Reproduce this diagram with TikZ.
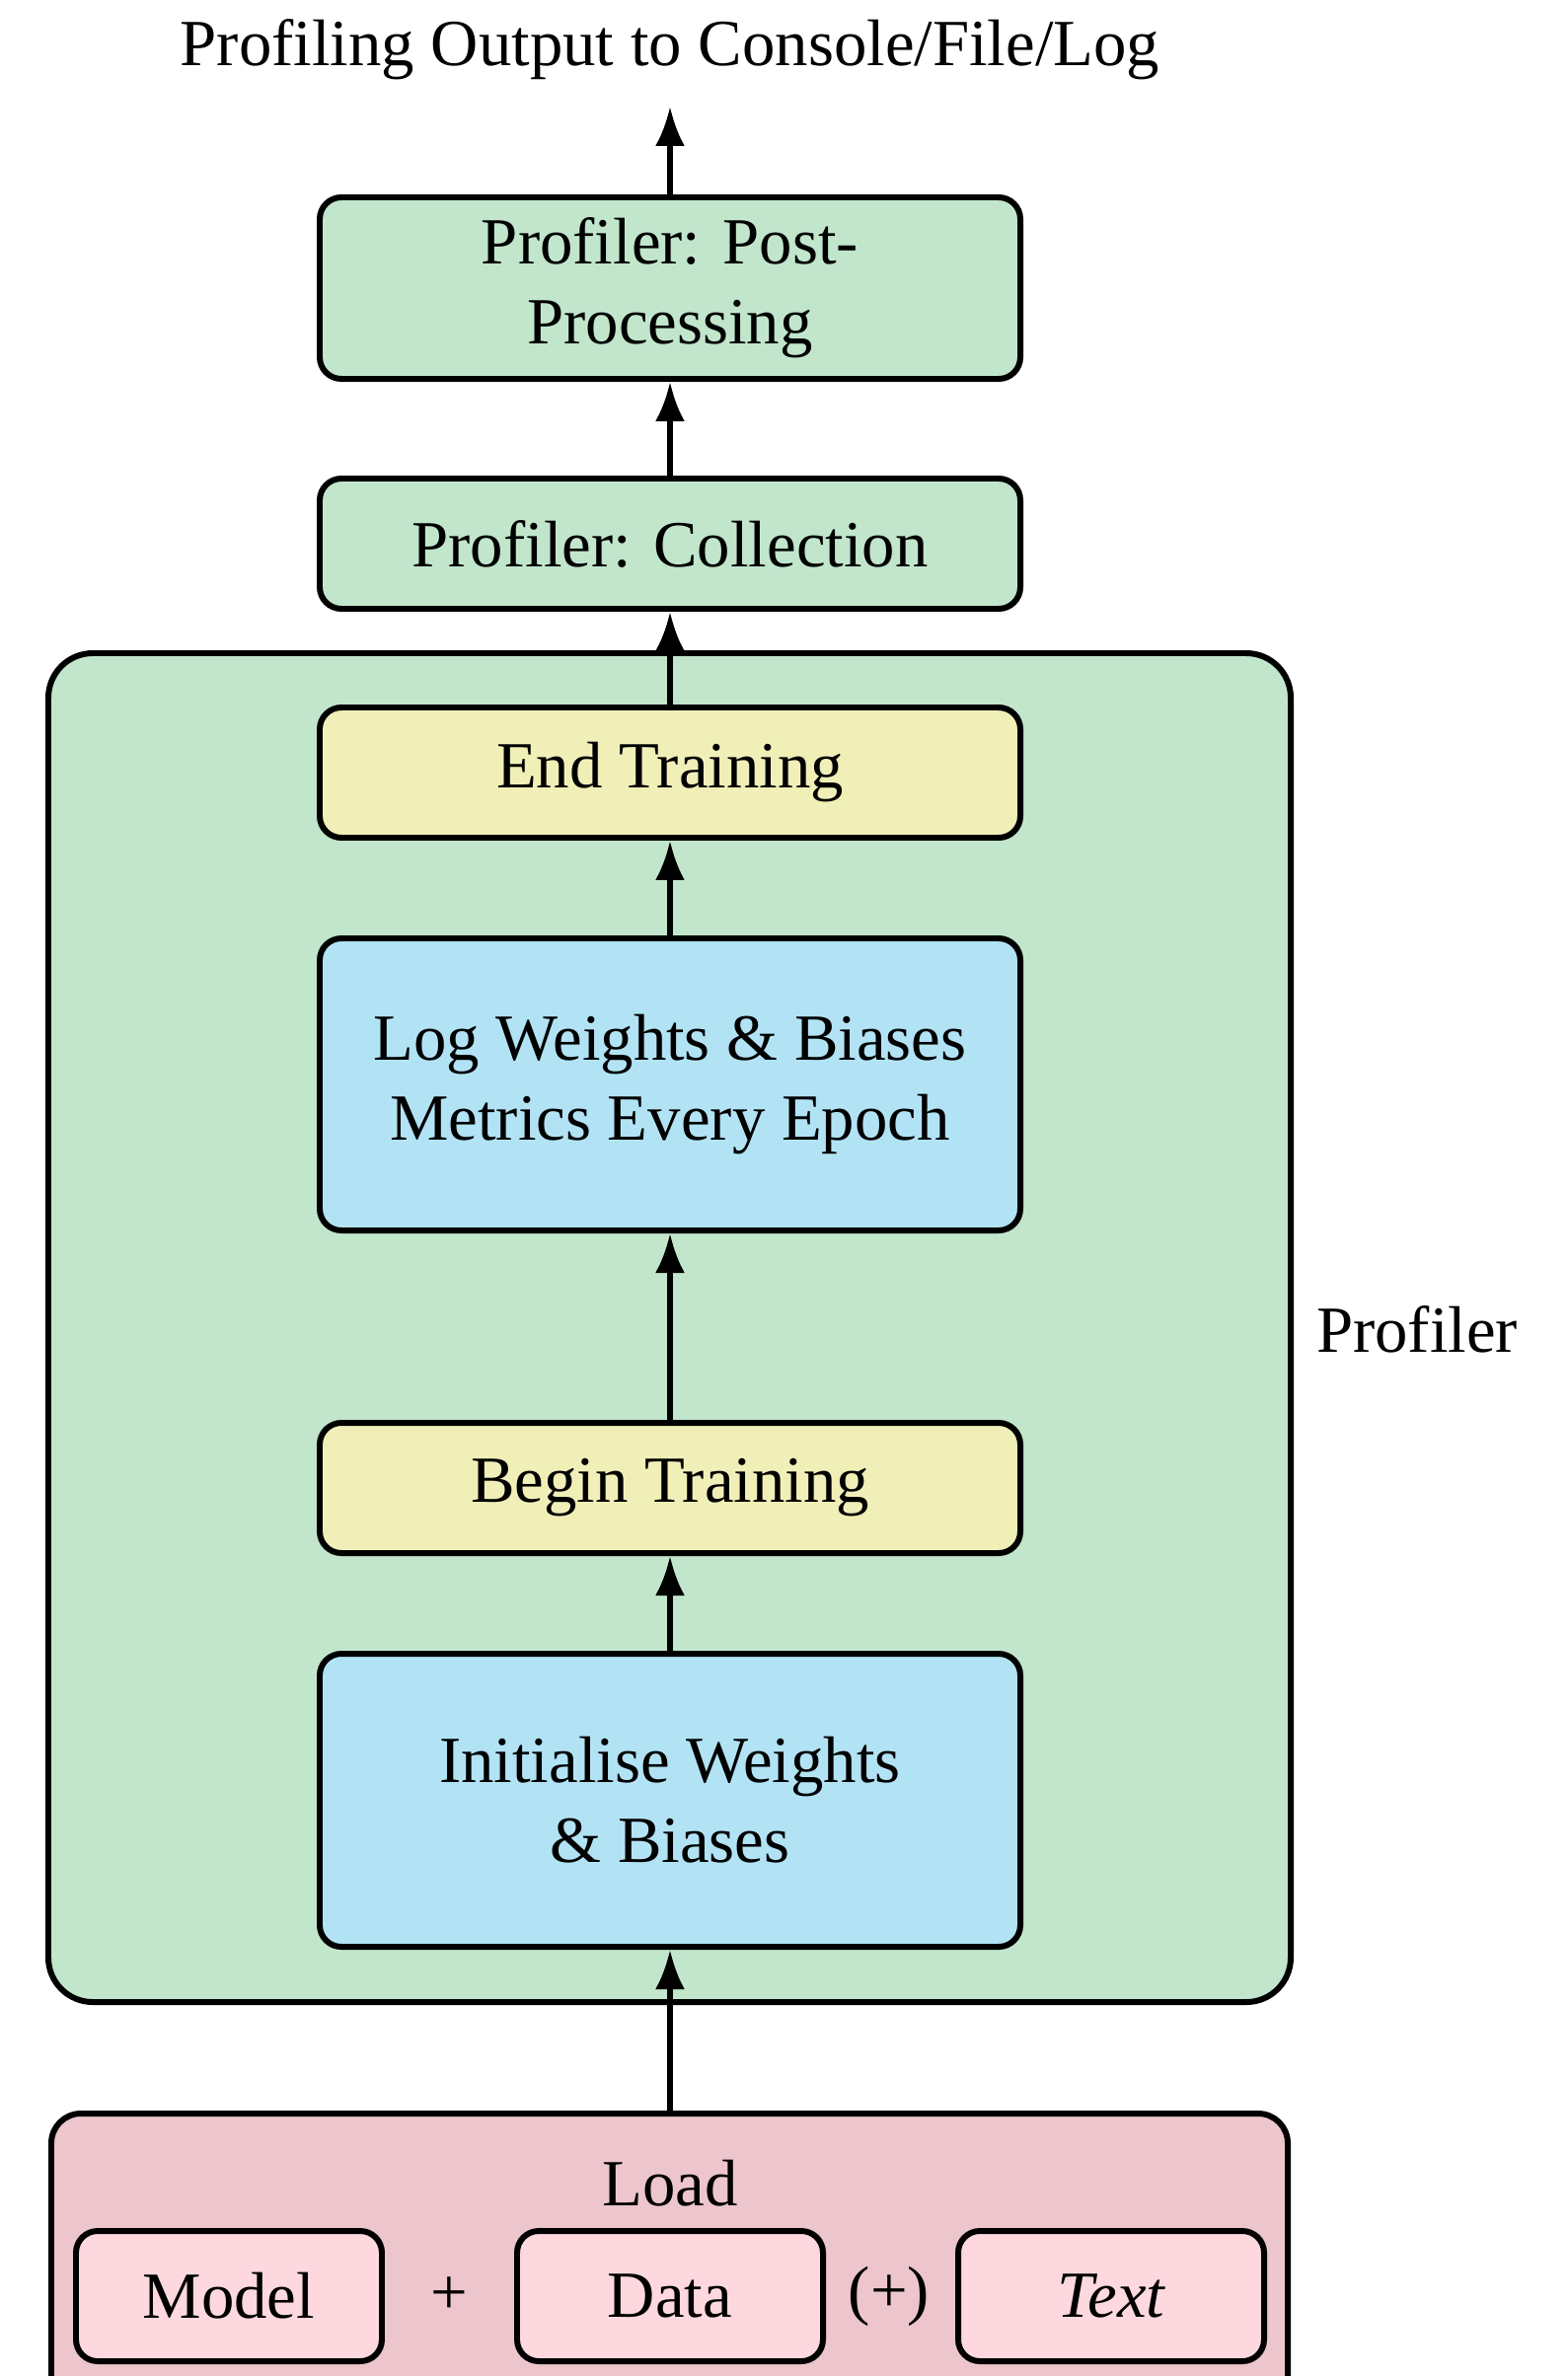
\documentclass[tikz,border=0pt]{standalone}
\usepackage{fontspec}
\setmainfont{Liberation Serif}
\usetikzlibrary{arrows.meta}
\definecolor{pgreen}{HTML}{C1E6CC}
\definecolor{pyellow}{HTML}{F0EFB8}
\definecolor{pblue}{HTML}{B2E3F5}
\definecolor{ppink}{HTML}{ECC6CC}
\definecolor{plpink}{HTML}{FDD8DF}
\tikzset{
  box/.style={draw=black, line width=1.7pt, rounded corners=0.22cm, minimum width=7.1cm, align=center, inner sep=0pt, font=\fontsize{19}{23}\selectfont},
  gbox/.style={box, fill=pgreen},
  ybox/.style={box, fill=pyellow, minimum height=1.32cm},
  bbox/.style={box, fill=pblue, minimum height=2.96cm},
  smallbox/.style={box, fill=plpink, minimum width=3.1cm, minimum height=1.32cm},
  lbl/.style={font=\fontsize{19}{23}\selectfont, inner sep=0pt},
  arr/.style={-{Latex[length=4mm,width=3mm]}, line width=1.6pt}
}
\begin{document}
\begin{tikzpicture}
\useasboundingbox (0,0) rectangle (15.88,-24.08);
\clip (0,0) rectangle (15.88,-24.08);
% profiler container
\draw[fill=pgreen, line width=1.7pt, rounded corners=0.45cm] (0.49,-6.62) rectangle (13.08,-20.29);
\node[lbl] (proflbl) at (14.36,-13.47) {Profiler};
% load container
\draw[fill=ppink, line width=1.7pt, rounded corners=0.3cm] (0.52,-21.42) rectangle (13.05,-24.6);
\coordinate (loadtop) at (6.79,-21.42);
\node[lbl] (load) at (6.79,-22.13) {Load};
\node[smallbox] (model) at (2.32,-23.27) {Model};
\node[smallbox] (data) at (6.79,-23.27) {Data};
\node[smallbox] (text) at (11.26,-23.27) {\itshape Text};
\node[lbl] (plus) at (4.55,-23.27) {+};
\node[lbl] (oplus) at (9.01,-23.27) {(+)};
% stack
\node[bbox, minimum height=2.97cm] (init) at (6.79,-18.245) {Initialise Weights\\\& Biases};
\node[ybox] (begin) at (6.79,-15.08) {Begin Training};
\node[bbox] (log) at (6.79,-10.99) {Log Weights \& Biases\\Metrics Every Epoch};
\node[ybox] (end) at (6.79,-7.83) {End Training};
\node[gbox, minimum height=1.32cm] (coll) at (6.79,-5.51) {Profiler: Collection};
\node[gbox, minimum height=1.84cm] (post) at (6.79,-2.92) {Profiler: Post-\\Processing};
\node[lbl] (title) at (6.79,-0.50) {Profiling Output to Console/File/Log};
\coordinate (out) at (6.79,-1.08);
% arrows
\draw[arr] (loadtop) -- (init.south);
\draw[arr] (init.north) -- (begin.south);
\draw[arr] (begin.north) -- (log.south);
\draw[arr] (log.north) -- (end.south);
\draw[arr] (end.north) -- (coll.south);
\draw[arr] (coll.north) -- (post.south);
\draw[arr] (post.north) -- (out);
\end{tikzpicture}
\end{document}
